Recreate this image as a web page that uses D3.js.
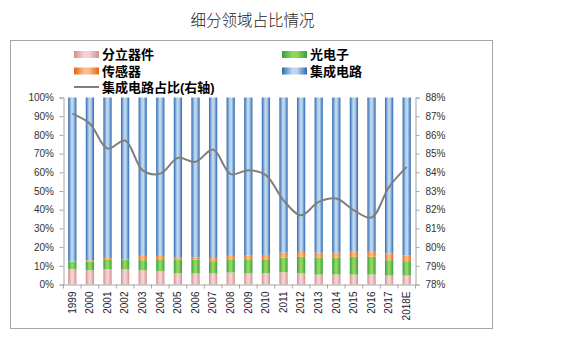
<!DOCTYPE html>
<html><head><meta charset="utf-8">
<script src="https://cdn.jsdelivr.net/npm/d3@7"></script>
<style>
html,body{margin:0;padding:0;background:#fff;}
svg{display:block;}
</style></head>
<body>
<svg id="c" width="562" height="356"></svg>
<script>
const years = ["1999","2000","2001","2002","2003","2004","2005","2006","2007","2008","2009","2010","2011","2012","2013","2014","2015","2016","2017","2018E"];
// stacked shares (%)
const discrete = [8.2,7.6,8.2,8.2,7.6,7.1,5.9,5.9,5.9,6.4,5.9,6.0,6.6,6.0,5.3,5.3,5.3,5.3,4.8,4.8];
const opto     = [4.1,4.7,5.3,5.0,5.4,6.4,7.3,7.3,6.6,7.1,7.6,7.5,7.8,8.8,9.0,9.0,9.5,9.5,8.2,7.7];
const sensor   = [0.3,0.7,0.7,0.4,2.3,1.8,1.4,1.4,1.7,1.8,1.9,2.3,2.6,2.6,2.7,2.7,2.7,2.7,3.6,3.0];
const icBar    = [87.4,87.0,85.8,86.4,84.7,84.7,85.4,85.4,85.8,84.7,84.6,84.2,83.0,82.6,83.0,83.0,82.5,82.5,83.4,84.5];
// IC share line (right axis, %)
const icShare  = [87.14,86.6,85.27,85.7,84.1,83.93,84.77,84.56,85.22,83.9,84.11,83.85,82.5,81.7,82.42,82.6,81.97,81.58,83.22,84.29];
const leftTicks = [0,10,20,30,40,50,60,70,80,90,100];
const rightTicks = [78,79,80,81,82,83,84,85,86,87,88];
const seriesNames = ["分立器件","光电子","传感器","集成电路"];
const lineName = "集成电路占比(右轴)";
const title = "细分领域占比情况";

const svg = d3.select("#c");
const defs = svg.append("defs");
const pal = {
  "分立器件": ["#d48e8c","#f3d3d2"],
  "光电子":   ["#2fa043","#93d65a"],
  "传感器":   ["#e2650a","#fbbd8e"],
  "集成电路": ["#2c68b0","#bcd6ef"]
};
seriesNames.forEach((n,i)=>{
  const g = defs.append("linearGradient").attr("id","g"+i).attr("x1","0").attr("x2","1").attr("y1","0").attr("y2","0");
  g.append("stop").attr("offset","0%").attr("stop-color",pal[n][0]);
  g.append("stop").attr("offset","40%").attr("stop-color",pal[n][1]);
  g.append("stop").attr("offset","60%").attr("stop-color",pal[n][1]);
  g.append("stop").attr("offset","100%").attr("stop-color",pal[n][0]);
});

// frame
svg.append("rect").attr("x",10.5).attr("y",40.5).attr("width",482).attr("height",288)
  .attr("fill","none").attr("stroke","#a6a6a6").attr("stroke-width",1);

// title
svg.append("text").attr("x",252.5).attr("y",26).attr("text-anchor","middle")
  .attr("font-family","'Liberation Sans','Noto Sans CJK SC'").attr("font-size",15.5).attr("font-weight",300)
  .attr("fill","#222").text(title);

const X0 = 63.5, X1 = 415.5, Y0 = 284.5, Y1 = 97.5;
const x = d3.scaleBand().domain(years).range([X0,X1]).paddingInner(0.53).paddingOuter(0.265);
const yL = d3.scaleLinear().domain([0,100]).range([Y0,Y1]);
const yR = d3.scaleLinear().domain([78,88]).range([Y0,Y1]);

const data = years.map((y,i)=>({year:y,"分立器件":discrete[i],"光电子":opto[i],"传感器":sensor[i],"集成电路":icBar[i]}));
const stack = d3.stack().keys(seriesNames)(data);

const gb = svg.append("g");
stack.forEach((s,si)=>{
  gb.selectAll(null).data(s).enter().append("rect")
    .attr("x",d=>x(d.data.year))
    .attr("width",x.bandwidth())
    .attr("y",d=>yL(d[1]))
    .attr("height",d=>Math.max(0,yL(d[0])-yL(d[1])))
    .attr("fill","url(#g"+si+")");
});

// axes
const axisColor = "#a6a6a6";
const lab = "'Liberation Sans', Arial, sans-serif";
const ax = svg.append("g").attr("transform",`translate(${X0},0)`)
  .call(d3.axisLeft(yL).tickValues(leftTicks).tickFormat(d=>d+"%").tickSize(4).tickPadding(5.5));
const axr = svg.append("g").attr("transform",`translate(${X1},0)`)
  .call(d3.axisRight(yR).tickValues(rightTicks).tickFormat(d=>d+"%").tickSize(4).tickPadding(6));
[ax,axr].forEach(a=>{
  a.select(".domain").attr("stroke",axisColor);
  a.selectAll(".tick line").attr("stroke",axisColor);
  a.selectAll("text").attr("font-family",lab).attr("font-size",10).attr("fill","#333");
});
const axb = svg.append("g").attr("transform",`translate(0,${Y0})`)
  .call(d3.axisBottom(x).tickSize(0).tickSizeOuter(0));
axb.select(".domain").attr("stroke",axisColor);
axb.selectAll(".tick text")
  .attr("transform","rotate(-90)")
  .attr("text-anchor","end")
  .attr("x",-7).attr("y",0).attr("dy","0.33em")
  .attr("font-family",lab).attr("font-size",10).attr("fill","#1e2233");
// category separator ticks
const step = x.step();
const seps = years.map(y=>x(y)-(step-x.bandwidth())/2).concat([X1]);
svg.append("g").selectAll("line").data(seps).enter().append("line")
  .attr("x1",d=>d).attr("x2",d=>d).attr("y1",Y0).attr("y2",Y0+4)
  .attr("stroke",axisColor);

// line
const line = d3.line().x((d,i)=>x(years[i])+x.bandwidth()/2).y(d=>yR(d)).curve(d3.curveCatmullRom.alpha(0.5));
svg.append("path").datum(icShare).attr("d",line)
  .attr("fill","none").attr("stroke","#7f7f7f").attr("stroke-width",2);

// legend
const lf = "'Liberation Sans','Noto Sans CJK SC', sans-serif";
const legItems = [
  {name:"分立器件", idx:0, col:0, row:0},
  {name:"光电子", idx:1, col:1, row:0},
  {name:"传感器", idx:2, col:0, row:1},
  {name:"集成电路", idx:3, col:1, row:1}
];
const colX = [74,282], rowY = [54.5,71,87];
legItems.forEach(it=>{
  svg.append("rect").attr("x",colX[it.col]).attr("y",rowY[it.row]-3.5).attr("width",25).attr("height",7)
    .attr("fill","url(#g"+it.idx+")");
  svg.append("text").attr("x",colX[it.col]+28).attr("y",rowY[it.row]).attr("dy","0.36em")
    .attr("font-family",lf).attr("font-size",13).attr("font-weight","bold").attr("fill","#000")
    .text(it.name);
});
svg.append("line").attr("x1",colX[0]).attr("x2",colX[0]+25).attr("y1",rowY[2]).attr("y2",rowY[2])
  .attr("stroke","#7f7f7f").attr("stroke-width",2);
svg.append("text").attr("x",colX[0]+28).attr("y",rowY[2]).attr("dy","0.36em")
  .attr("font-family",lf).attr("font-size",13).attr("font-weight","bold").attr("fill","#000")
  .text(lineName);
</script>
</body></html>
